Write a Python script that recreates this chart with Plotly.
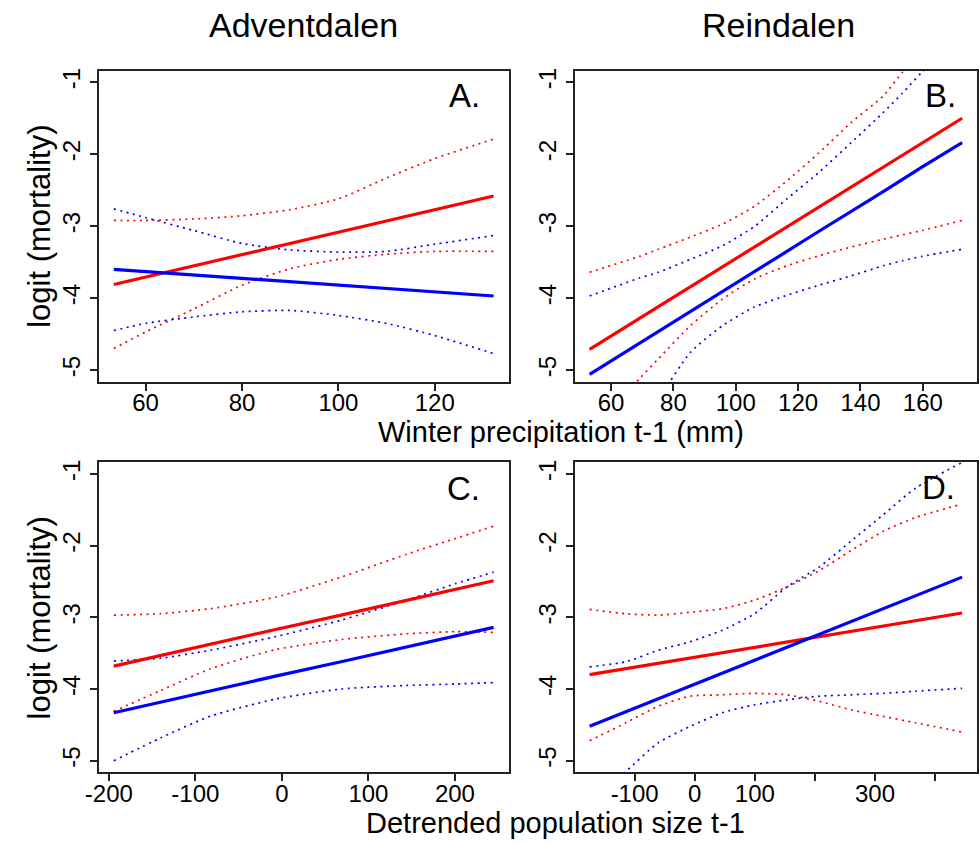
import plotly.graph_objects as go

W, H = 979, 843
FONT = "Liberation Sans, Arial, sans-serif"
RED = "#FF0000"
BLUE = "#0000FF"

# ---------------- Panel A: Adventdalen, winter precipitation ----------------
a_x = [53.4, 60, 70, 80, 90, 100, 110, 120, 132.2]
a_red_fit = [-3.81, -3.707, -3.551, -3.395, -3.239, -3.083, -2.927, -2.771, -2.58]
a_red_up = [-2.92, -2.92, -2.90, -2.855, -2.77, -2.62, -2.33, -2.06, -1.79]
a_red_lo = [-4.70, -4.47, -4.15, -3.82, -3.59, -3.46, -3.39, -3.35, -3.35]
a_blue_fit = [-3.60, -3.631, -3.678, -3.725, -3.772, -3.819, -3.866, -3.913, -3.97]
a_blue_up = [-2.76, -2.88, -3.06, -3.24, -3.33, -3.36, -3.35, -3.25, -3.13]
a_blue_lo = [-4.45, -4.35, -4.26, -4.19, -4.17, -4.24, -4.35, -4.52, -4.77]

# ---------------- Panel B: Reindalen, winter precipitation ----------------
b_x = [53.1, 69.1, 75.2, 85.5, 95.8, 106.1, 116.4, 126.7, 137.0, 147.3, 153.5, 159.7, 172.6]
b_red_fit = [-4.71, -4.28, -4.12, -3.84, -3.57, -3.29, -3.01, -2.73, -2.46, -2.18, -2.01, -1.85, -1.50]
b_red_up = [-3.64, -3.42, -3.32, -3.15, -2.97, -2.72, -2.37, -1.98, -1.56, -1.19, -0.86, -0.58, 0.0]
b_red_lo = [-5.90, -5.12, -4.84, -4.38, -4.01, -3.73, -3.55, -3.41, -3.29, -3.18, -3.12, -3.06, -2.92]
b_blue_fit = [-5.06, -4.63, -4.47, -4.19, -3.91, -3.63, -3.35, -3.07, -2.80, -2.52, -2.35, -2.18, -1.84]
b_blue_up = [-3.97, -3.72, -3.64, -3.46, -3.27, -3.00, -2.62, -2.25, -1.84, -1.42, -1.15, -0.86, -0.34]
b_blue_lo = [-6.65, -5.75, -5.40, -4.75, -4.38, -4.12, -3.96, -3.82, -3.69, -3.55, -3.48, -3.42, -3.32]

# ---------------- Panel C: Adventdalen, detrended population ----------------
c_x = [-194.3, -140, -83, -7.4, 68.4, 144.3, 200.9, 244.7]
c_red_fit = [-3.68, -3.53, -3.38, -3.17, -2.97, -2.76, -2.61, -2.49]
c_red_up = [-2.97, -2.95, -2.88, -2.72, -2.44, -2.12, -1.90, -1.73]
c_red_lo = [-4.31, -4.02, -3.72, -3.45, -3.31, -3.23, -3.20, -3.21]
c_blue_fit = [-4.33, -4.18, -4.03, -3.82, -3.62, -3.41, -3.26, -3.14]
c_blue_up = [-3.61, -3.57, -3.46, -3.27, -3.04, -2.76, -2.53, -2.37]
c_blue_lo = [-5.00, -4.68, -4.38, -4.14, -4.00, -3.95, -3.93, -3.91]

# ---------------- Panel D: Reindalen, detrended population ----------------
d_x = [-175, -114.6, -61, -7.5, 46, 99.6, 153, 207, 260, 313.8, 367.3, 445]
d_red_fit = [-3.80, -3.716, -3.642, -3.568, -3.494, -3.419, -3.345, -3.270, -3.197, -3.122, -3.048, -2.94]
d_red_up = [-2.89, -2.95, -2.97, -2.93, -2.88, -2.76, -2.58, -2.35, -2.07, -1.80, -1.61, -1.42]
d_red_lo = [-4.72, -4.47, -4.24, -4.10, -4.08, -4.06, -4.08, -4.17, -4.29, -4.38, -4.47, -4.60]
d_blue_fit = [-4.52, -4.317, -4.137, -3.958, -3.779, -3.599, -3.420, -3.239, -3.061, -2.881, -2.701, -2.44]
d_blue_up = [-3.69, -3.62, -3.46, -3.34, -3.18, -2.95, -2.58, -2.30, -1.94, -1.57, -1.20, -0.84]
d_blue_lo = [-5.60, -5.15, -4.75, -4.52, -4.33, -4.22, -4.15, -4.10, -4.08, -4.06, -4.03, -3.99]

# axis ticks
a_ticks = [60, 80, 100, 120]
b_ticks = [60, 80, 100, 120, 140, 160]
c_ticks = [-200, -100, 0, 100, 200]
c_ticktext = ["-200", "-100", "0", "100", "200"]
d_ticks = [-100, 0, 100, 200, 300, 400]
d_ticktext = ["-100", "0", "100", "", "300", ""]
y_ticks = [-5, -4, -3, -2, -1]
y_ticktext = ["-5", "-4", "-3", "-2", "-1"]

col_titles = ["Adventdalen", "Reindalen"]
x_titles = ["Winter precipitation t-1 (mm)", "Detrended population size t-1"]
y_title = "logit (mortality)"
letters = ["A.", "B.", "C.", "D."]

panels = [
    (a_x, a_red_fit, a_red_up, a_red_lo, a_blue_fit, a_blue_up, a_blue_lo),
    (b_x, b_red_fit, b_red_up, b_red_lo, b_blue_fit, b_blue_up, b_blue_lo),
    (c_x, c_red_fit, c_red_up, c_red_lo, c_blue_fit, c_blue_up, c_blue_lo),
    (d_x, d_red_fit, d_red_up, d_red_lo, d_blue_fit, d_blue_up, d_blue_lo),
]

# layout in pixels
def px_x(p):
    return p / W

def px_y(p):
    return 1 - p / H

left_dom = [px_x(86), px_x(503)]
right_dom = [px_x(570), 1.0]
top_dom = [px_y(380), px_y(68)]
bot_dom = [px_y(772), px_y(461)]

doms = [(left_dom, top_dom), (right_dom, top_dom), (left_dom, bot_dom), (right_dom, bot_dom)]

def rng(xs):
    lo, hi = min(xs), max(xs)
    d = (hi - lo) * 0.04
    return [lo - d, hi + d]

fig = go.Figure()
DOT = "2px,4.5px"
for i, (xs, rf, ru, rl, bf, bu, bl) in enumerate(panels):
    sfx = "" if i == 0 else str(i + 1)
    xa, ya = "x" + sfx, "y" + sfx
    for ys, color, width, dash, shape in [
        (ru, RED, 1.7, DOT, "spline"), (rl, RED, 1.7, DOT, "spline"),
        (bu, BLUE, 1.7, DOT, "spline"), (bl, BLUE, 1.7, DOT, "spline"),
        (rf, RED, 3.2, "solid", "linear"), (bf, BLUE, 3.2, "solid", "linear"),
    ]:
        line = dict(color=color, width=width, dash=dash, shape=shape)
        if shape == "spline":
            line["smoothing"] = 0.6
        fig.add_trace(go.Scatter(
            x=xs, y=ys, mode="lines", xaxis=xa, yaxis=ya,
            line=line, showlegend=False, hoverinfo="skip",
        ))

xticks_all = [(a_ticks, None), (b_ticks, None), (c_ticks, c_ticktext), (d_ticks, d_ticktext)]
layout = {}
for i in range(4):
    sfx = "" if i == 0 else str(i + 1)
    xd, yd = doms[i]
    tv, tt = xticks_all[i]
    xaxis = dict(
        domain=xd, range=rng(panels[i][0]), anchor="y" + sfx,
        showline=True, linecolor="#222222", linewidth=2, mirror=True,
        ticks="outside", ticklen=7, tickwidth=1.5, tickcolor="#222222",
        tickvals=tv, showgrid=False, zeroline=False, ticklabelstandoff=-8,
        tickfont=dict(family=FONT, size=24, color="black"),
    )
    if tt is not None:
        xaxis["ticktext"] = tt
    yaxis = dict(
        domain=yd, range=[-5.16, -0.84], anchor="x" + sfx,
        showline=True, linecolor="#222222", linewidth=2, mirror=True,
        ticks="outside", ticklen=7, tickwidth=1.5, tickcolor="#222222",
        tickvals=y_ticks, ticktext=y_ticktext, tickangle=-90,
        showgrid=False, zeroline=False,
        tickfont=dict(family=FONT, size=24, color="black"),
    )
    layout["xaxis" + sfx] = xaxis
    layout["yaxis" + sfx] = yaxis

annotations = []
def ann(text, x, y, size, angle=0):
    annotations.append(dict(
        text=text, x=px_x(x), y=px_y(y), xref="paper", yref="paper",
        xanchor="center", yanchor="middle", showarrow=False, textangle=angle,
        font=dict(family=FONT, size=size, color="black"),
    ))

ann(col_titles[0], 294, 22, 34)
ann(col_titles[1], 777, 22, 34)
ann(x_titles[0], 556, 431, 29)
ann(x_titles[1], 551, 823, 29)
ann(y_title, 26, 224, 31, -90)
ann(y_title, 26, 617, 31, -90)
ann(letters[0], 458, 93, 33)
ann(letters[1], 942, 93, 33)
ann(letters[2], 457, 487, 33)
ann(letters[3], 940, 486, 33)

fig.update_layout(
    width=W, height=H, margin=dict(l=0, r=0, t=0, b=0),
    paper_bgcolor="white", plot_bgcolor="white",
    annotations=annotations, **layout,
)
fig.write_html("out.html")
